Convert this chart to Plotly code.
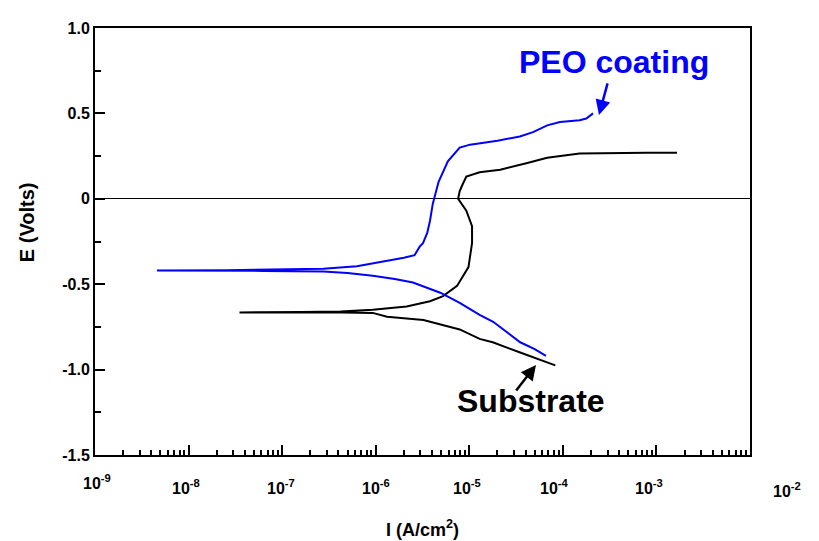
import plotly.graph_objects as go

# ---- data (current density in A/cm^2, potential in V) ----
peo_current = [6.6e-5, 5.0e-5, 3.5e-5, 2.5e-5, 1.8e-5, 1.29e-5, 7.9e-6, 4.9e-6,
               3.5e-6, 2.5e-6, 1.6e-6, 9.3e-7, 5.0e-7, 2.75e-7, 6.3e-8, 1.6e-8,
               4.6e-9, 2.5e-8, 1.26e-7, 2.75e-7, 6.3e-7, 1.5e-6, 2.0e-6, 2.6e-6,
               2.95e-6, 3.2e-6, 3.55e-6, 3.8e-6, 4.07e-6, 4.7e-6, 5.9e-6, 7.9e-6,
               1.02e-5, 2.0e-5, 3.47e-5, 4.8e-5, 6.8e-5, 9.3e-5, 1.51e-4, 1.78e-4,
               2.1e-4]
peo_potential = [-0.92, -0.88, -0.84, -0.78, -0.72, -0.68, -0.61, -0.55,
                 -0.52, -0.49, -0.47, -0.45, -0.435, -0.425, -0.422, -0.42,
                 -0.42, -0.418, -0.415, -0.41, -0.395, -0.36, -0.345, -0.33,
                 -0.28, -0.26, -0.20, -0.13, -0.03, 0.10, 0.22, 0.30,
                 0.317, 0.34, 0.365, 0.39, 0.43, 0.45, 0.46, 0.47,
                 0.50]

sub_current = [8.3e-5, 5.75e-5, 3.5e-5, 1.78e-5, 1.29e-5, 7.9e-6, 6.2e-6, 5.0e-6,
               3.24e-6, 2.0e-6, 1.32e-6, 9.3e-7, 4.2e-7, 1.0e-7, 3.5e-8,
               1.6e-7, 4.2e-7, 9.3e-7, 2.14e-6, 3.8e-6, 5.25e-6, 7.4e-6,
               9.8e-6, 1.07e-5, 1.07e-5, 9.3e-6, 7.6e-6, 7.9e-6, 8.5e-6, 9.3e-6,
               1.29e-5, 2.14e-5, 4.17e-5, 6.8e-5, 1.51e-4, 3.2e-4, 7.9e-4,
               1.66e-3]
sub_potential = [-0.975, -0.945, -0.90, -0.84, -0.82, -0.765, -0.75, -0.74,
                 -0.71, -0.70, -0.69, -0.668, -0.665, -0.665, -0.665,
                 -0.663, -0.66, -0.65, -0.63, -0.60, -0.57, -0.51,
                 -0.40, -0.26, -0.16, -0.07, 0.0, 0.045, 0.085, 0.13,
                 0.155, 0.17, 0.21, 0.24, 0.265, 0.268, 0.27,
                 0.27]

x_tick_exponents = [-9, -8, -7, -6, -5, -4, -3, -2]
y_tick_values = [-1.5, -1.0, -0.5, 0, 0.5, 1.0]
y_tick_labels = ["-1.5", "-1.0", "-0.5", "0", "0.5", "1.0"]

# ---- layout helpers (positions/styles) ----
x_label_shift = {-9: (2, -27), -8: (-3, -32), -7: (-1, -32), -6: (0, -32),
                 -5: (-2, -32), -4: (-8, -32), -3: (-7, -32), -2: (37, -35)}

FONT = "Liberation Sans, Arial, sans-serif"

fig = go.Figure()
fig.add_trace(go.Scatter(x=sub_current, y=sub_potential, mode="lines",
                         line=dict(color="#000000", width=2), showlegend=False))
fig.add_trace(go.Scatter(x=peo_current, y=peo_potential, mode="lines",
                         line=dict(color="#0000FF", width=2), showlegend=False))

annotations = []
for e in x_tick_exponents:
    dx, dy = x_label_shift[e]
    annotations.append(dict(
        x=e, y=0, xref="x", yref="paper",
        text="<b>10<sup>%d</sup></b>" % e, showarrow=False,
        xanchor="center", yanchor="middle", xshift=dx, yshift=dy,
        font=dict(family=FONT, size=16, color="black")))

annotations += [
    dict(x=0.5, y=0, xref="paper", yref="paper", text="<b>I (A/cm<sup>2</sup>)</b>",
         showarrow=False, xanchor="center", yanchor="middle", yshift=-73,
         font=dict(family=FONT, size=18, color="black")),
    dict(x=-0.104, y=0.545, xref="paper", yref="paper", text="<b>E (Volts)</b>",
         textangle=-90, showarrow=False, xanchor="center", yanchor="middle",
         font=dict(family=FONT, size=20, color="black")),
    dict(x=-3.453, y=0.80, xref="x", yref="y", text="<b>PEO coating</b>",
         showarrow=False, font=dict(family=FONT, size=32, color="#0000FF")),
    dict(x=-3.614, y=0.491, xref="x", yref="y", text="", showarrow=True,
         ax=9, ay=-33, arrowhead=2, arrowsize=1.2, arrowwidth=2.5, arrowcolor="#0000FF"),
    dict(x=-4.34, y=-1.185, xref="x", yref="y", text="<b>Substrate</b>",
         showarrow=False, font=dict(family=FONT, size=32, color="black")),
    dict(x=-4.287, y=-0.973, xref="x", yref="y", text="", showarrow=True,
         ax=-21, ay=27, arrowhead=2, arrowsize=1.2, arrowwidth=2.5, arrowcolor="black"),
]

# page body has an 8px margin: shrink the figure so the plot area lands where it should
fig.update_layout(
    width=811, height=533,
    margin=dict(l=87, r=69, t=14, b=86),
    paper_bgcolor="white", plot_bgcolor="white",
    annotations=annotations,
    font=dict(family=FONT, color="black"),
)
fig.update_xaxes(
    type="log", range=[-9, -2], showgrid=False, zeroline=False,
    showline=True, linecolor="black", linewidth=2, mirror=True,
    ticks="inside", ticklen=10, tickwidth=1.5, tickcolor="black", dtick=1,
    showticklabels=False,
    minor=dict(ticks="inside", ticklen=5, tickwidth=1.5, tickcolor="black",
               dtick="D1", showgrid=False),
)
fig.update_yaxes(
    range=[-1.5, 1.0], showgrid=False,
    zeroline=True, zerolinecolor="black", zerolinewidth=1,
    showline=True, linecolor="black", linewidth=2, mirror=True,
    ticks="inside", ticklen=10, tickwidth=1.5, tickcolor="black",
    tickvals=y_tick_values, ticktext=["<b>%s</b>" % t for t in y_tick_labels],
    tickfont=dict(family=FONT, size=16, color="black"),
    minor=dict(ticks="inside", ticklen=6, tickwidth=1.5, tickcolor="black",
               dtick=0.25, showgrid=False),
)

fig.write_html("out.html")
